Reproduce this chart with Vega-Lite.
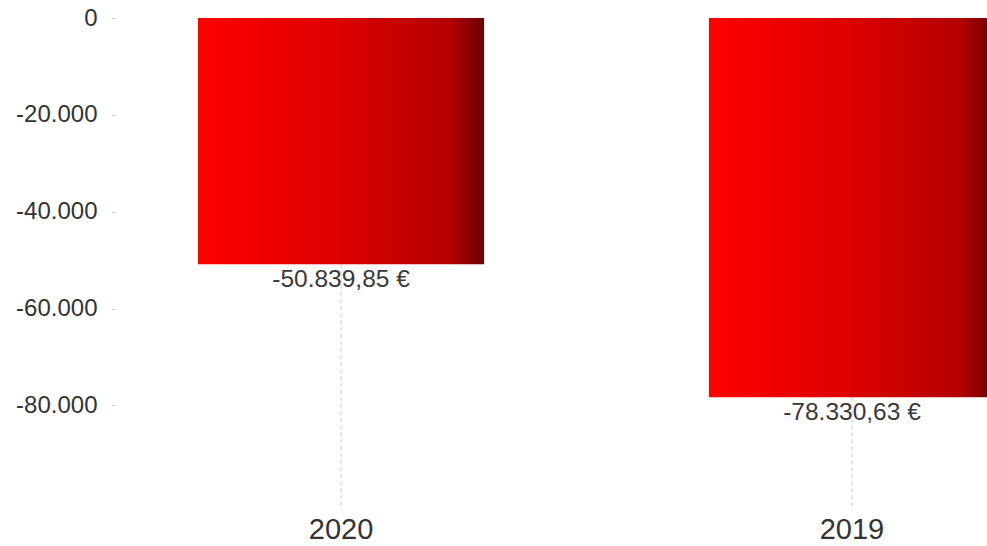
{
  "$schema": "https://vega.github.io/schema/vega-lite/v6.json",
  "autosize": {"type": "none"},
  "padding": {"left": 115, "top": 18, "right": 0, "bottom": 36},
  "width": 872,
  "height": 492,
  "background": "white",
  "data": {"values": [
    {"year": "2020", "value": -50839.85},
    {"year": "2019", "value": -78330.63}
  ]},
  "encoding": {
    "x": {
      "field": "year", "type": "nominal", "sort": ["2020", "2019"],
      "scale": {"range": [0, 963], "paddingInner": 0.44, "paddingOuter": 0.1624},
      "axis": {"title": null, "domain": false, "ticks": false, "labelAngle": 0, "labelFontSize": 29, "labelPadding": 5, "labelColor": "#333333", "labelFont": "Liberation Sans"}
    }
  },
  "layer": [
    {
      "mark": {"type": "rule", "stroke": "#cccccc", "strokeWidth": 1, "strokeDash": [4, 3]},
      "encoding": {
        "y": {"field": "value", "type": "quantitative"},
        "y2": {"value": "height"}
      }
    },
    {
      "mark": {
        "type": "bar",
        "color": {
          "gradient": "linear", "x1": 0, "x2": 1, "y1": 0, "y2": 0,
          "stops": [
            {"offset": 0, "color": "#ff0000"},
            {"offset": 0.5, "color": "#dc0000"},
            {"offset": 0.88, "color": "#b40000"},
            {"offset": 1, "color": "#6a0000"}
          ]
        }
      },
      "encoding": {
        "y": {
          "field": "value", "type": "quantitative",
          "scale": {"domain": [-101600, 0], "nice": false, "zero": true},
          "axis": {"title": null, "domain": false, "grid": false, "values": [0, -20000, -40000, -60000, -80000], "format": ",d", "tickColor": "#cccccc", "tickSize": 4, "labelFontSize": 24, "labelPadding": 14, "labelColor": "#333333", "labelFont": "Liberation Sans"}
        }
      }
    },
    {
      "mark": {"type": "text", "baseline": "top", "dy": 4, "fontSize": 24.5, "font": "Liberation Sans", "color": "#3a3a3a"},
      "encoding": {
        "y": {"field": "value", "type": "quantitative"},
        "text": {"field": "value", "type": "quantitative", "format": "$,.2f"}
      }
    }
  ],
  "config": {
    "view": {"stroke": null},
    "locale": {"number": {"decimal": ",", "thousands": ".", "grouping": [3], "currency": ["", " €"], "minus": "-"}}
  }
}
